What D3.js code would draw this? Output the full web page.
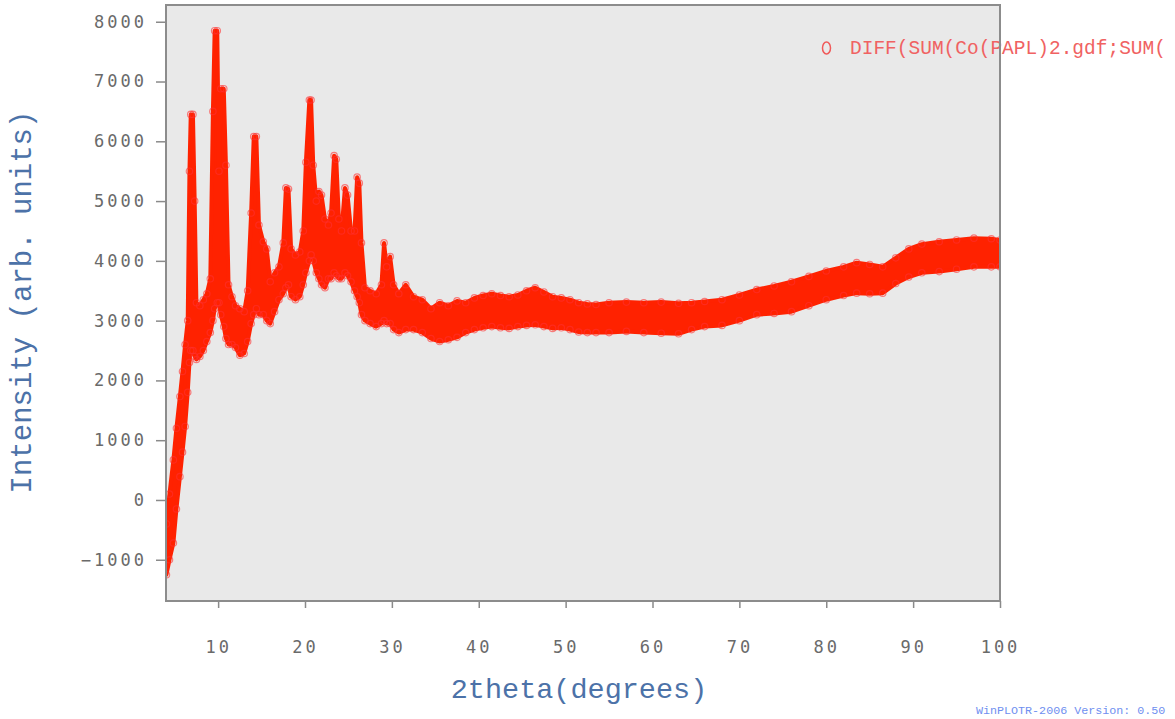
<!DOCTYPE html>
<html>
<head>
<meta charset="utf-8">
<script src="https://cdn.jsdelivr.net/npm/d3@7"></script>
<style>
  html, body { margin: 0; padding: 0; background: #ffffff; overflow: hidden; }
  svg { display: block; }
</style>
</head>
<body>
<svg id="chart" width="1175" height="719"></svg>
<script>
// ---- data (2theta in degrees, intensity envelope of the noisy pattern) ----
const twoTheta = [4.05, 4.4, 4.85, 5.2, 5.6, 5.9, 6.2, 6.5, 6.7, 6.85, 7.1, 7.3, 7.5, 7.9, 8.3, 8.7, 9.1, 9.4, 9.6, 9.9,
  10.1, 10.3, 10.65, 10.9, 11.2, 11.6, 12.0, 12.5, 13.0, 13.4, 13.8, 14.1, 14.4, 14.7, 15.2, 15.6, 16.0, 16.5, 17.0, 17.5,
  17.8, 18.1, 18.4, 18.9, 19.4, 19.8, 20.1, 20.5, 20.7, 20.95, 21.3, 21.6, 21.9, 22.3, 22.7, 23.0, 23.35, 23.6, 23.9, 24.2,
  24.6, 24.9, 25.3, 25.7, 26.0, 26.25, 26.5, 26.9, 27.5, 28.2, 28.8, 29.1, 29.4, 29.8, 30.2, 30.8, 31.6, 32.5, 33.5, 34.5,
  35.5, 36.5, 37.5, 38.5, 39.5, 40.5, 41.5, 42.5, 43.5, 44.5, 45.5, 46.5, 47.5, 48.5, 49.5, 50.5, 51.5, 52.5, 53.5, 55,
  57, 59, 61, 63, 64.5, 66, 68, 70, 72, 74, 76, 78, 80, 82, 83.5, 85, 86.5, 88, 89.5, 91,
  93, 95, 97, 99, 100];
const intensityMax = [-400, 100, 670, 1200, 1730, 2150, 2600, 3000, 5500, 6450, 6450, 5000, 3300, 3250, 3350, 3450, 3700, 6500, 7850, 7850,
  5500, 6880, 6880, 5600, 3600, 3400, 3250, 3200, 3150, 3500, 4800, 6080, 6080, 4600, 4320, 4200, 3650, 3800, 3900, 4300,
  5220, 5200, 4200, 4100, 4150, 4500, 5650, 6690, 6690, 5600, 5000, 5160, 5100, 4700, 4600, 4800, 5760, 5700, 4700, 4500,
  5220, 5100, 4500, 4500, 5400, 5300, 4300, 3550, 3500, 3450, 3600, 4300, 3900, 4070, 3600, 3450, 3600, 3400, 3350, 3200,
  3300, 3250, 3330, 3300, 3380, 3420, 3450, 3420, 3400, 3430, 3500, 3550, 3480, 3400, 3380, 3350, 3300, 3280, 3270, 3300,
  3310, 3300, 3310, 3290, 3300, 3320, 3350, 3430, 3520, 3580, 3650, 3740, 3830, 3900, 3970, 3940, 3900, 4050, 4200, 4280,
  4320, 4350, 4380, 4370, 4350];
const intensityMin = [-1250, -1000, -720, -150, 390, 800, 1230, 1800, 2300, 2500, 2500, 2400, 2350, 2400, 2500, 2650, 2800, 3000, 3200, 3300,
  3300, 3100, 2900, 2700, 2600, 2600, 2550, 2420, 2450, 2650, 2950, 3100, 3200, 3100, 3100, 3000, 2950, 3150, 3350, 3450,
  3550, 3600, 3400, 3350, 3400, 3600, 3800, 4000, 4100, 4000, 3800, 3700, 3600, 3550, 3700, 3700, 3800, 3750, 3700, 3700,
  3800, 3750, 3650, 3500, 3400, 3300, 3100, 3000, 2950, 2900, 2950, 3000, 2950, 2950, 2850, 2800, 2850, 2850, 2800, 2700,
  2650, 2680, 2720, 2800, 2850, 2880, 2900, 2880, 2870, 2900, 2920, 2930, 2900, 2870, 2880, 2850, 2810, 2800, 2800, 2800,
  2820, 2800, 2790, 2780, 2850, 2900, 2920, 3000, 3100, 3120, 3150, 3250, 3350, 3420, 3460, 3450, 3460, 3620, 3730, 3800,
  3820, 3860, 3900, 3900, 3900];
const xTicks = [10, 20, 30, 40, 50, 60, 70, 80, 90, 100];
const yTicks = [-1000, 0, 1000, 2000, 3000, 4000, 5000, 6000, 7000, 8000];
const xTitle = "2theta(degrees)";
const yTitle = "Intensity (arb. units)";
const legendLabel = "DIFF(SUM(Co(PAPL)2.gdf;SUM(";
const footer = "WinPLOTR-2006 Version: 0.50";

// ---- layout ----
const svg = d3.select("#chart");
const L = 166, R = 1000, T = 5, B = 601;
const x = d3.scaleLinear().domain([4, 100]).range([L, R]);
const y = d3.scaleLinear().domain([-1690, 8280]).range([B, T]);

const data = twoTheta.map((t, i) => ({ t, hi: intensityMax[i], lo: intensityMin[i] }));

// plot background
svg.append("rect").attr("x", L).attr("y", T).attr("width", R - L).attr("height", B - T)
  .attr("fill", "#e9e9e9");

svg.append("clipPath").attr("id", "clip")
  .append("rect").attr("x", L).attr("y", T).attr("width", R - L).attr("height", B - T);

const g = svg.append("g").attr("clip-path", "url(#clip)");
const red = "#ff2200";

// dense marker band
g.append("path").datum(data)
  .attr("d", d3.area().x(d => x(d.t)).y0(d => y(d.lo)).y1(d => y(d.hi)))
  .attr("fill", red).attr("stroke", red).attr("stroke-width", 4).attr("stroke-linejoin", "round");

// open circle markers on the envelope
const pts = data.flatMap(d => [{ t: d.t, v: d.hi }, { t: d.t, v: d.lo }]);
g.selectAll("circle.m").data(pts).enter().append("circle")
  .attr("cx", d => x(d.t)).attr("cy", d => y(d.v)).attr("r", 3.2)
  .attr("fill", "none").attr("stroke", "#ff3030").attr("stroke-opacity", 0.6).attr("stroke-width", 1.2);

// axes
const tickColor = "#8a8a8a";
const labelColor = "#6a6a6a";
const xAxis = svg.append("g").attr("transform", `translate(0,${B})`)
  .call(d3.axisBottom(x).tickValues(xTicks).tickSize(7).tickPadding(33).tickFormat(d3.format("d")));
const yAxis = svg.append("g").attr("transform", `translate(${L},0)`)
  .call(d3.axisLeft(y).tickValues(yTicks).tickSize(10).tickPadding(9).tickFormat(d => d < 0 ? "\u2212" + Math.abs(d) : d));
[xAxis, yAxis].forEach(a => {
  a.select(".domain").remove();
  a.selectAll(".tick line").attr("stroke", tickColor).attr("stroke-width", 1.5);
  a.selectAll(".tick text").attr("fill", labelColor)
    .style("font-family", "'DejaVu Sans Mono', monospace").style("font-size", "17px")
    .style("letter-spacing", "3px");
});

// legend
svg.append("ellipse").attr("cx", 826.5).attr("cy", 48).attr("rx", 4).attr("ry", 6)
  .attr("fill", "none").attr("stroke", "#f05a5a").attr("stroke-width", 1.5);
svg.append("text").attr("x", 850).attr("y", 53.5).text(legendLabel)
  .attr("fill", "#f06262").style("font-family", "'Liberation Mono', monospace").style("font-size", "19.5px");

// plot frame
svg.append("rect").attr("x", L).attr("y", T).attr("width", R - L).attr("height", B - T)
  .attr("fill", "none").attr("stroke", "#8c8c8c").attr("stroke-width", 2);

// axis titles
svg.append("text").attr("x", 579).attr("y", 698).attr("text-anchor", "middle").text(xTitle)
  .attr("fill", "#4c72a8").style("font-family", "'Liberation Mono', monospace").style("font-size", "28.5px");
svg.append("text").attr("transform", "translate(31,302) rotate(-90)").attr("text-anchor", "middle").text(yTitle)
  .attr("fill", "#4c72a8").style("font-family", "'Liberation Mono', monospace").style("font-size", "29px");

// footer
svg.append("text").attr("x", 976).attr("y", 714).text(footer)
  .attr("fill", "#6f8ff0").style("font-family", "'Liberation Mono', monospace").style("font-size", "11.7px");
</script>
</body>
</html>
